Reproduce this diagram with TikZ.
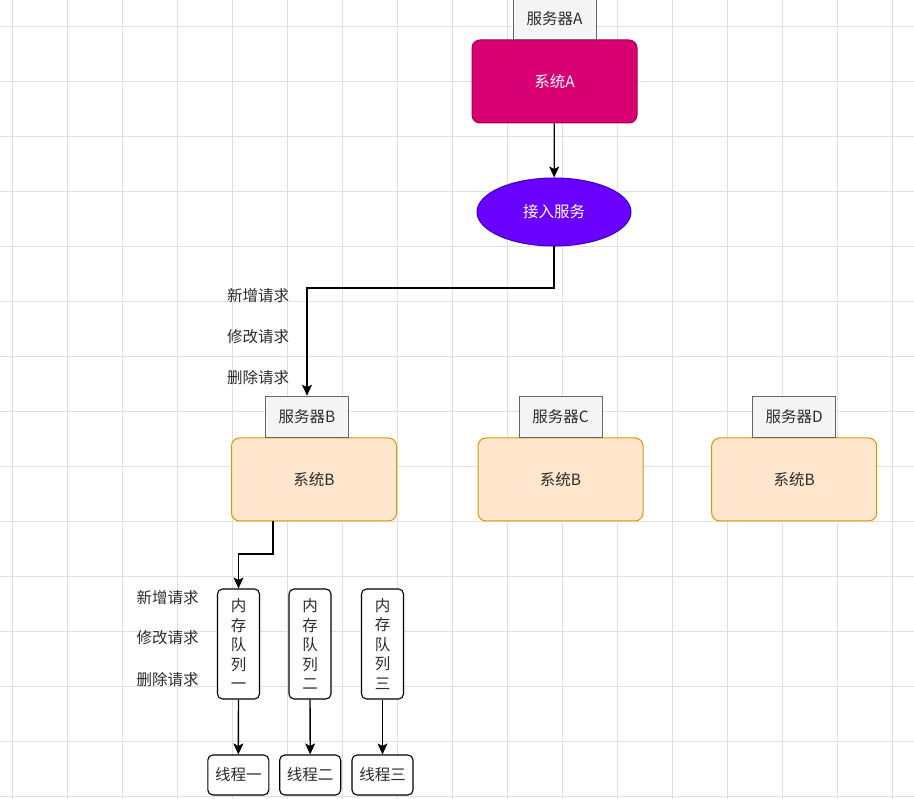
\documentclass[tikz,border=0pt]{standalone}
\usepackage{fontspec}
\setmainfont{Noto Sans CJK SC}
\usepackage{xcolor}
\usepackage{tikz}
\usetikzlibrary{positioning,arrows.meta,shapes.geometric,calc}
\definecolor{gridc}{HTML}{E0E0E0}
\definecolor{ink}{HTML}{2B2B2B}
\definecolor{srvbg}{HTML}{F5F5F5}
\definecolor{srvline}{HTML}{666666}
\definecolor{magentabg}{HTML}{D80073}
\definecolor{magentaline}{HTML}{A50040}
\definecolor{violetbg}{HTML}{6A00FF}
\definecolor{violetline}{HTML}{3700CC}
\definecolor{peachbg}{HTML}{FFE6CC}
\definecolor{peachline}{HTML}{D79B00}

\begin{document}
\begin{tikzpicture}[
  x=1pt,y=-1pt,
  font=\fontsize{15.5}{18}\selectfont,
  gridline/.style={draw=gridc,line width=0.9pt},
  srv/.style={draw=srvline,fill=srvbg,text=ink,line width=0.8pt,minimum width=83pt,minimum height=41pt,inner sep=0pt},
  sys/.style={rounded corners=8pt,line width=1pt,minimum width=165pt,minimum height=83pt,inner sep=0pt},
  sysmain/.style={sys,draw=magentaline,fill=magentabg,text=white},
  sysnode/.style={sys,draw=peachline,fill=peachbg,text=ink},
  access/.style={ellipse,draw=violetline,fill=violetbg,text=white,line width=1pt,minimum width=154pt,minimum height=68pt,inner sep=0pt},
  queue/.style={draw=black,fill=white,rounded corners=5pt,line width=1.1pt,minimum width=42pt,minimum height=110pt,inner sep=0pt,align=center,font=\fontsize{15.5}{19.5}\selectfont,text=ink},
  worker/.style={draw=black,fill=white,rounded corners=5pt,line width=1.1pt,minimum width=61pt,minimum height=40pt,inner sep=0pt,text=ink},
  lbl/.style={text=ink,inner sep=0pt},
  arr/.style={-{Stealth[length=11pt,width=10pt,inset=2.5pt]},line width=1.3pt,draw=black}]
  \fill[white] (0,0) rectangle (914,799);
  \useasboundingbox (0,0) rectangle (914,799);
  \foreach \gx in {0,...,16}
    \draw[gridline] (12.3+55*\gx,0) -- (12.3+55*\gx,799);
  \foreach \gy in {0,...,14}
    \draw[gridline] (0,26.7+55*\gy) -- (914,26.7+55*\gy);

  \node[sysmain] (sysa) at (554.5,81.5) {系统A};
  \node[srv,above=0pt of sysa] (srva) {服务器A};
  \node[access] (entry) at (554,212) {接入服务};
  \node[sysnode] (sysb) at (314,479.5) {系统B};
  \node[srv,above=0pt of sysb.north,xshift=-7pt,anchor=south] (srvb) {服务器B};
  \node[sysnode] (sysc) at (560.5,479.5) {系统B};
  \node[srv,above=0pt of sysc] (srvc) {服务器C};
  \node[sysnode] (sysd) at (794.2,479.5) {系统B};
  \node[srv,above=0pt of sysd] (srvd) {服务器D};

  \node[lbl] (addb) at (258,296) {新增请求};
  \node[lbl] (modb) at (258,337) {修改请求};
  \node[lbl] (delb) at (258,378) {删除请求};

  \node[queue] (qone) at (238.5,644) {内\\存\\队\\列\\一};
  \node[queue] (qtwo) at (310,644) {内\\存\\队\\列\\二};
  \node[queue] (qthree) at (382.5,644) {内\\存\\队\\列\\三};
  \node[worker] (tone) at (238.3,775) {线程一};
  \node[worker] (ttwo) at (310.2,775) {线程二};
  \node[worker] (tthree) at (382.5,775) {线程三};

  \node[lbl] (addq) at (167.5,598) {新增请求};
  \node[lbl] (modq) at (167.5,638) {修改请求};
  \node[lbl] (delq) at (167.5,680) {删除请求};

  \coordinate (bendb) at (307,288);
  \coordinate (bendq) at (273,554);
  \draw[arr] (sysa) -- (entry);
  \draw[arr] (entry.south) |- (bendb) -- (srvb.north);
  \draw[arr] (bendq |- sysb.south) -- (bendq) -| (qone.north);
  \draw[arr] (qone) -- (tone);
  \draw[arr] (qtwo) -- (ttwo);
  \draw[arr] (qthree) -- (tthree);
\end{tikzpicture}
\end{document}
